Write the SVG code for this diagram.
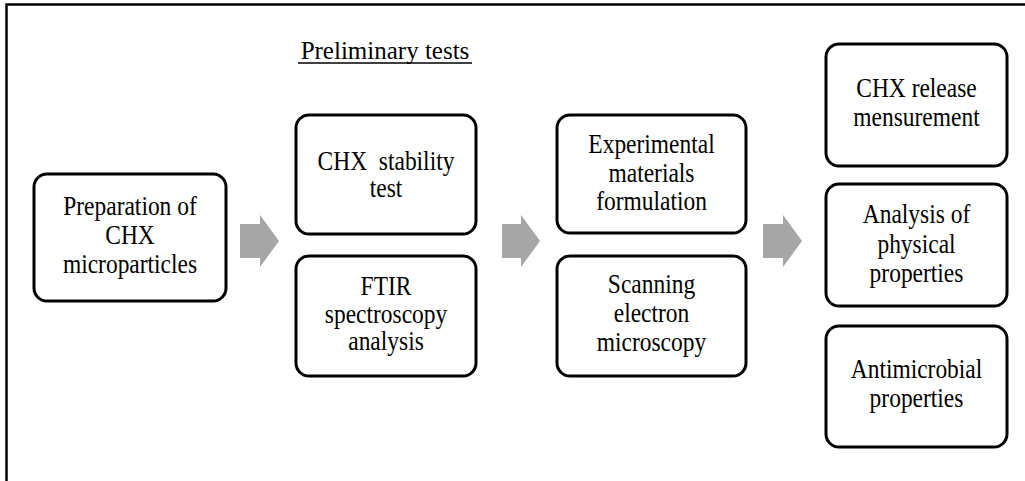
<svg xmlns="http://www.w3.org/2000/svg" width="1025" height="481" viewBox="0 0 1025 481">
  <style>
    .box { fill: #ffffff; stroke: #000000; stroke-width: 3; }
    .t { font-family: "Liberation Serif", "Times New Roman", serif; font-size: 26.5px; fill: #000000; text-anchor: middle; }
    .title { font-family: "Liberation Serif", "Times New Roman", serif; font-size: 25px; fill: #000000; text-anchor: middle; }
    .arrow { fill: #a6a6a6; stroke: none; }
    .frame { stroke: #000000; stroke-width: 2.5; fill: none; }
  </style>
  <rect width="1025" height="481" fill="#ffffff"/>
  <path class="frame" d="M1025,4.5 H6.5 V481"/>

  <g id="title">
    <text class="title" x="385" y="59">Preliminary tests</text>
    <line x1="298" y1="63" x2="472" y2="63" stroke="#000000" stroke-width="1.3"/>
  </g>

  <g id="connectors">
    <path class="arrow" d="M240,224 H260 V215 L279,241 L260,267 V258 H240 Z"/>
    <path class="arrow" d="M502,224 H521 V215 L540,241 L521,267 V258 H502 Z"/>
    <path class="arrow" d="M763,224 H783 V215 L802,241 L783,267 V258 H763 Z"/>
  </g>

  <g id="node-preparation">
    <rect class="box" x="34" y="174" width="192" height="127" rx="13"/>
    <g transform="translate(130,0) scale(0.885,1)">
      <text class="t" x="0" y="215">Preparation of</text>
      <text class="t" x="0" y="244">CHX</text>
      <text class="t" x="0" y="273">microparticles</text>
    </g>
  </g>

  <g id="node-stability">
    <rect class="box" x="296" y="115" width="180" height="119" rx="13"/>
    <g transform="translate(386,0) scale(0.885,1)">
      <text class="t" x="0" y="170" xml:space="preserve">CHX  stability</text>
      <text class="t" x="0" y="197">test</text>
    </g>
  </g>

  <g id="node-ftir">
    <rect class="box" x="296" y="256" width="180" height="120" rx="13"/>
    <g transform="translate(386,0) scale(0.885,1)">
      <text class="t" x="0" y="295">FTIR</text>
      <text class="t" x="0" y="323">spectroscopy</text>
      <text class="t" x="0" y="350">analysis</text>
    </g>
  </g>

  <g id="node-formulation">
    <rect class="box" x="557" y="115" width="189" height="118" rx="13"/>
    <g transform="translate(651.5,0) scale(0.885,1)">
      <text class="t" x="0" y="153">Experimental</text>
      <text class="t" x="0" y="182">materials</text>
      <text class="t" x="0" y="210">formulation</text>
    </g>
  </g>

  <g id="node-sem">
    <rect class="box" x="557" y="256" width="189" height="120" rx="13"/>
    <g transform="translate(651.5,0) scale(0.885,1)">
      <text class="t" x="0" y="293">Scanning</text>
      <text class="t" x="0" y="322">electron</text>
      <text class="t" x="0" y="351">microscopy</text>
    </g>
  </g>

  <g id="node-release">
    <rect class="box" x="826" y="44" width="181" height="122" rx="13"/>
    <g transform="translate(916.5,0) scale(0.885,1)">
      <text class="t" x="0" y="97">CHX release</text>
      <text class="t" x="0" y="126">mensurement</text>
    </g>
  </g>

  <g id="node-physical">
    <rect class="box" x="826" y="184" width="181" height="122" rx="13"/>
    <g transform="translate(916.5,0) scale(0.885,1)">
      <text class="t" x="0" y="223">Analysis of</text>
      <text class="t" x="0" y="253">physical</text>
      <text class="t" x="0" y="282">properties</text>
    </g>
  </g>

  <g id="node-antimicrobial">
    <rect class="box" x="826" y="326" width="181" height="121" rx="13"/>
    <g transform="translate(916.5,0) scale(0.885,1)">
      <text class="t" x="0" y="378">Antimicrobial</text>
      <text class="t" x="0" y="407">properties</text>
    </g>
  </g>
</svg>
